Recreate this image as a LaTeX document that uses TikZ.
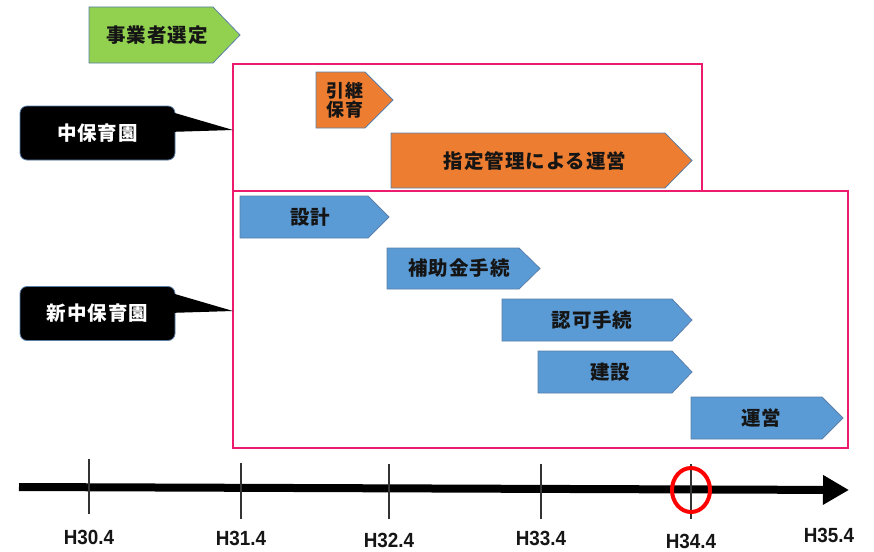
\documentclass[tikz,border=0pt]{standalone}
\usepackage{fontspec}
\setmainfont{Liberation Sans}
\newfontfamily\jp{Noto Sans CJK JP}[LetterSpace=5]
\newfontfamily\yrfont{Liberation Sans}[FakeStretch=0.92]
\usetikzlibrary{arrows.meta}
\definecolor{cgreen}{HTML}{92D050}
\definecolor{corange}{HTML}{ED7D31}
\definecolor{cblue}{HTML}{5B9BD5}
\definecolor{cpink}{HTML}{EC1B6E}
\definecolor{bord}{HTML}{5A80AA}
\definecolor{txtdark}{HTML}{151515}
\definecolor{tickc}{HTML}{333333}
\begin{document}
\begin{tikzpicture}[x=1pt,y=-1pt,
  bar/.style={draw=bord, line width=0.8pt, line join=miter},
  greenbar/.style={bar, fill=cgreen},
  orangebar/.style={bar, fill=corange},
  bluebar/.style={bar, fill=cblue},
  lbl/.style={font=\jp\bfseries\fontsize{19.5}{22}\selectfont, text=txtdark, inner sep=0pt},
  lblsmall/.style={font=\jp\bfseries\fontsize{18}{19}\selectfont, text=txtdark, inner sep=0pt, align=center},
  callout/.style={fill=black, draw=bord, line width=0.8pt, rounded corners=7pt, minimum width=155pt, minimum height=54pt, inner sep=0pt, text=white, font=\jp\bfseries\fontsize{19.5}{22}\selectfont},
  pinkbox/.style={draw=cpink, line width=2.9pt},
  tick/.style={draw=tickc, line width=1.2pt},
  yr/.style={font=\yrfont\bfseries\fontsize{20.5}{22}\selectfont, text=txtdark, inner sep=0pt},
]
\useasboundingbox (0,0) rectangle (874,551);

% pink frames
\draw[pinkbox] (233,64) rectangle (702,191);
\draw[pinkbox] (233,191) rectangle (848,448);
\coordinate (tipA) at (233,130);
\coordinate (tipB) at (233,311);

% callouts
\node[callout] (naka) at (97.5,133) {中保育園};
\fill[black] (168,111) -- (tipA) -- (168,132) -- cycle;
\node[callout] (shin) at (97.5,313.5) {新中保育園};
\fill[black] (168,292) -- (tipB) -- (168,313) -- cycle;

% green
\draw[greenbar] (89,7) -- (213,7) -- (240,35) -- (213,63) -- (89,63) -- cycle;
\node[lbl] (sentei) at (157,35) {事業者選定};

% orange
\draw[orangebar] (316,72) -- (365,72) -- (393,100) -- (365,128) -- (316,128) -- cycle;
\node[lblsmall] (hikitsugi) at (345,100) {引継\\保育};
\draw[orangebar] (391,133) -- (665,133) -- (692,160.5) -- (665,188) -- (391,188) -- cycle;
\node[lbl] (shitei) at (535,161) {指定管理による運営};

% blue
\draw[bluebar] (240,196) -- (368,196) -- (389,217) -- (368,238) -- (240,238) -- cycle;
\node[lbl] (sekkei) at (310,217) {設計};
\draw[bluebar] (387,248) -- (519,248) -- (540,268.5) -- (519,289) -- (387,289) -- cycle;
\node[lbl] (hojo) at (459,268.5) {補助金手続};
\draw[bluebar] (502,299) -- (672,299) -- (692,320) -- (672,341) -- (502,341) -- cycle;
\node[lbl] (ninka) at (592,320) {認可手続};
\draw[bluebar] (538,351) -- (672,351) -- (692,372) -- (672,393) -- (538,393) -- cycle;
\node[lbl] (kensetsu) at (610,372) {建設};
\draw[bluebar] (691,397) -- (822,397) -- (843,418) -- (822,439) -- (691,439) -- cycle;
\node[lbl] (unei) at (761,418) {運営};

% timeline
\coordinate (tl0) at (19,487);
\coordinate (tl1) at (849,490);
\draw[line width=8pt, -{Triangle[length=26pt,width=28pt]}] (tl0) -- (tl1);
\draw[tick] (89,459) -- (89,514);
\draw[tick] (241,463) -- (241,519);
\draw[tick] (389,464) -- (389,519);
\draw[tick] (541,464) -- (541,519);
\draw[tick] (691,464) -- (691,519);
\draw[red, line width=4pt] (691,490) ellipse [x radius=19pt, y radius=22pt];

\node[yr] (h30) at (89,537) {H30.4};
\node[yr] (h31) at (241,538) {H31.4};
\node[yr] (h32) at (389,540) {H32.4};
\node[yr] (h33) at (541,538) {H33.4};
\node[yr] (h34) at (691,541) {H34.4};
\node[yr] (h35) at (829,535) {H35.4};
\end{tikzpicture}
\end{document}
